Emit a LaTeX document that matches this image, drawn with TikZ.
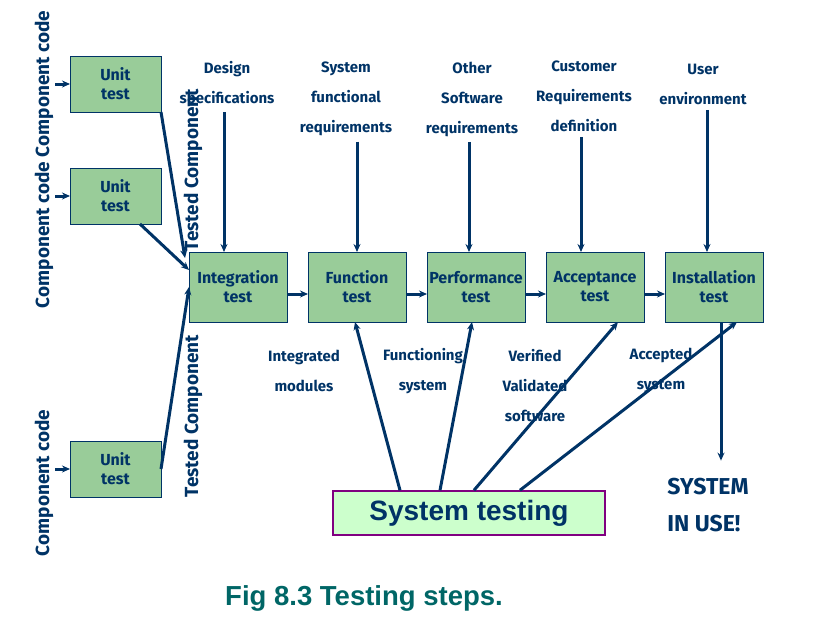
\documentclass[tikz,border=0pt]{standalone}
\usepackage{fontspec}
\setmainfont{Liberation Sans}
\newfontfamily\comicfont{Fira Sans}
\usetikzlibrary{positioning,arrows.meta,calc}
\definecolor{navy}{HTML}{003366}
\definecolor{boxgreen}{HTML}{99CC99}
\definecolor{palegreen}{HTML}{CCFFCC}
\definecolor{framepurple}{HTML}{800080}
\definecolor{captteal}{HTML}{006666}

\begin{document}
\begin{tikzpicture}[x=1pt, y=-1pt,
  tst/.style={draw=navy, fill=boxgreen, line width=1pt, minimum width=98pt,
              minimum height=70pt, inner sep=0pt, outer sep=0pt, align=center, text=navy,
              font=\comicfont\bfseries\fontsize{16}{19}\selectfont},
  unit/.style={tst, minimum width=91pt, minimum height=56pt},
  lab/.style={text=navy, align=center, font=\comicfont\bfseries\fontsize{15}{30}\selectfont},
  side/.style={text=navy, rotate=90, font=\comicfont\bfseries\fontsize{19}{22}\selectfont},
  arr/.style={draw=navy, line width=3pt, -{Stealth[length=8pt,width=7pt]}},
  ln/.style={draw=navy, line width=3pt}]
\useasboundingbox (0,0) rectangle (817,624);
% unit tests
\node[unit] (unit1) at (115.5,84) {Unit\\test};
\node[unit] (unit2) at (115.5,196) {Unit\\test};
\node[unit] (unit3) at (115.5,469) {Unit\\test};
\node[side] (code1) at (44,84) {Component code};
\node[side] (code2) at (44,235) {Component code};
\node[side] (code3) at (44,483) {Component code};
\node[side] (tested1) at (193,170) {Tested Component};
\node[side] (tested2) at (193,416) {Tested Component};
% main row
\node[tst] (intg) at (238,287) {Integration\\test};
\node[tst, right=21pt of intg] (func) {Function\\test};
\node[tst, right=21pt of func] (perf) {Performance\\test};
\node[tst, right=21pt of perf] (acc) {Acceptance\\test};
\node[tst, right=21pt of acc] (inst) {Installation\\test};
% inputs from above
\node[lab] (spec) at (227,84) {Design\\specifications};
\node[lab] (sysfun) at (346,99) {System\\functional\\requirements};
\node[lab] (other) at (472,99) {Other\\Software\\requirements};
\node[lab] (cust) at (584,96) {Customer\\Requirements\\definition};
\node[lab] (user) at (703,84) {User\\environment};
% results below
\node[lab] (integrated) at (304,371) {Integrated\\modules};
\node[lab] (functioning) at (423,371) {Functioning\\system};
\node[lab] (verified) at (535,386) {Verified\\Validated\\software};
\node[lab] (accepted) at (661,370) {Accepted\\system};
\node[draw=framepurple, fill=palegreen, line width=1.5pt, minimum width=272pt,
      minimum height=44pt, inner sep=0pt, text=navy,
      font=\bfseries\fontsize{28}{30}\selectfont] (systest) at (469,513) {System testing};
\node[text=navy, align=left, font=\comicfont\bfseries\fontsize{23}{37}\selectfont] (inuse) at (708,505) {SYSTEM\\IN USE!};
\node[text=captteal, font=\bfseries\fontsize{27.5}{30}\selectfont] (caption) at (364,598) {Fig 8.3 Testing steps.};
% connectors
\foreach \u in {unit1,unit2,unit3}
  \draw[arr] ([xshift=-15pt]\u.west) -- (\u.west);
\draw[arr] (unit1.south east) -- ([xshift=-4pt,yshift=-6pt]intg.north west);
\draw[arr] ([xshift=-21pt]unit2.south east) -- ([yshift=-18pt]intg.north west);
\draw[arr] (unit3.east) -- (intg.west);
\draw[arr] ([xshift=-3pt,yshift=-2pt]spec.south) -- ([xshift=-3pt]spec.south |- intg.north);
\draw[arr] ([xshift=11pt,yshift=-2pt]sysfun.south) -- ([xshift=11pt]sysfun.south |- func.north);
\draw[arr] ([xshift=-3pt,yshift=-2pt]other.south) -- ([xshift=-3pt]other.south |- perf.north);
\draw[arr] ([xshift=-3pt,yshift=-2pt]cust.south) -- ([xshift=-3pt]cust.south |- acc.north);
\draw[arr] ([xshift=4pt,yshift=-2pt]user.south) -- ([xshift=4pt]user.south |- inst.north);
\draw[arr] ([yshift=-7pt]intg.east) -- ([yshift=-7pt]func.west);
\draw[arr] ([yshift=-7pt]func.east) -- ([yshift=-7pt]perf.west);
\draw[arr] ([yshift=-7pt]perf.east) -- ([yshift=-7pt]acc.west);
\draw[arr] ([yshift=-7pt]acc.east) -- ([yshift=-7pt]inst.west);
\draw[arr] ([xshift=-69pt]systest.north) -- ([xshift=-2pt]func.south);
\draw[arr] ([xshift=-29pt]systest.north) -- ([xshift=-4pt]perf.south);
\draw[arr] ([xshift=5pt]systest.north) -- ([xshift=23pt]acc.south);
\draw[arr] ([xshift=51pt]systest.north) -- ([xshift=23pt]inst.south);
\draw[arr] ([xshift=7pt]inst.south) -- ([xshift=7pt,yshift=14pt]inst.south |- inuse.north);
\end{tikzpicture}
\end{document}
